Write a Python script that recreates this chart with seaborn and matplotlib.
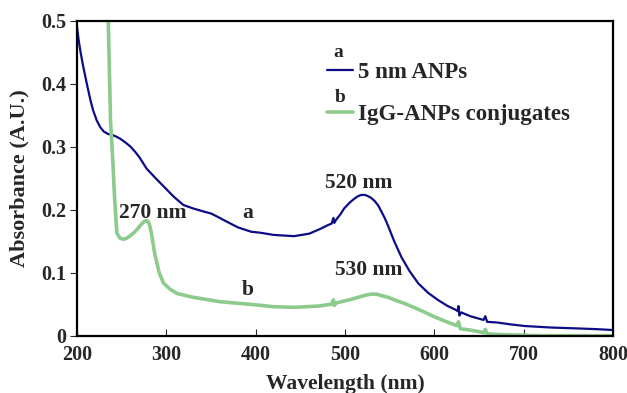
import numpy as np
import pandas as pd
import seaborn as sns
import matplotlib
matplotlib.use("Agg")
import matplotlib.pyplot as plt
from matplotlib.ticker import FuncFormatter

#=============================== data
wl_a = [200, 202, 204, 207, 211, 215, 218, 222, 226, 230, 235, 239, 244, 248, 254, 260,
        265, 270, 278, 288, 297, 308, 319, 330, 342, 350, 357, 365, 380, 395, 405, 420,
        443, 460, 473, 480, 485, 487, 488, 490, 495, 499, 505, 510, 514, 518, 522, 525,
        529, 533, 537, 540, 544, 548, 555, 563, 572, 582, 593, 604, 615, 624, 626, 627,
        628, 630, 640, 650, 655, 657, 659, 670, 685, 701, 730, 757, 780, 800]
abs_a = [0.490, 0.468, 0.450, 0.427, 0.400, 0.374, 0.358, 0.342, 0.331, 0.324, 0.320,
         0.319, 0.316, 0.313, 0.307, 0.300, 0.292, 0.283, 0.265, 0.250, 0.237, 0.221,
         0.2075, 0.202, 0.197, 0.194, 0.189, 0.183, 0.172, 0.165, 0.1635, 0.160, 0.158,
         0.162, 0.170, 0.175, 0.178, 0.187, 0.179, 0.184, 0.193, 0.202, 0.211, 0.217,
         0.221, 0.2235, 0.2235, 0.222, 0.219, 0.214, 0.207, 0.199, 0.188, 0.175, 0.150,
         0.125, 0.103, 0.083, 0.068, 0.0567, 0.047, 0.041, 0.039, 0.047, 0.032, 0.037,
         0.031, 0.027, 0.025, 0.031, 0.022, 0.021, 0.018, 0.0154, 0.013, 0.0117, 0.0105,
         0.009]

wl_b = [232, 235, 237.5, 240, 242, 244.6, 248, 252, 256, 260, 264, 268, 272, 275, 277,
        279, 281, 283, 287, 292, 297, 305, 312, 330, 360, 400, 420, 443, 470, 485, 487,
        488, 490, 505, 515, 522, 529, 535, 540, 548, 555, 567, 585, 600, 612, 625, 627,
        629, 640, 655, 657, 659, 670, 690, 720, 760, 800]
abs_b = [0.700, 0.500, 0.342, 0.280, 0.220, 0.163, 0.155, 0.153, 0.155, 0.159, 0.164,
         0.170, 0.177, 0.181, 0.1825, 0.182, 0.177, 0.165, 0.130, 0.100, 0.083, 0.073,
         0.067, 0.061, 0.054, 0.049, 0.046, 0.045, 0.047, 0.050, 0.057, 0.048, 0.052,
         0.057, 0.061, 0.064, 0.066, 0.066, 0.064, 0.061, 0.057, 0.051, 0.040, 0.030,
         0.023, 0.016, 0.022, 0.011, 0.009, 0.005, 0.010, 0.003, 0.002, 0.001, 0.0, 0.0,
         0.0]

label_a = "5 nm ANPs"
label_b = "IgG-ANPs conjugates"
peaks = [("520 nm", 515, 0.242), ("530 nm", 526, 0.104), ("270 nm", 285, 0.195),
         ("a", 391, 0.195), ("b", 391, 0.0725)]

#=============================== style
sns.set_style("ticks")
plt.rcParams['font.family'] = ['Liberation Serif', 'DejaVu Serif']
plt.rcParams['font.weight'] = 'bold'
plt.rcParams['axes.labelweight'] = 'bold'

df_a = pd.DataFrame({"wl": wl_a, "abs": abs_a})
df_b = pd.DataFrame({"wl": wl_b, "abs": abs_b})

fig = plt.figure(figsize=(6.27, 3.93), dpi=100)
ax = fig.add_axes([0.1228, 0.1458, 0.855, 0.8015])

sns.lineplot(data=df_a, x="wl", y="abs", ax=ax, color="#0c0c86", lw=1.6,
             label=label_a, sort=False)
sns.lineplot(data=df_b, x="wl", y="abs", ax=ax, color="#8ccb8c", lw=2.6,
             label=label_b, sort=False)

ax.set_xlim(200, 800)
ax.set_ylim(0, 0.5)
ax.set_xticks(range(200, 801, 100))
ax.set_yticks([0, 0.1, 0.2, 0.3, 0.4, 0.5])
ax.yaxis.set_major_formatter(FuncFormatter(lambda v, p: "0" if v == 0 else f"{v:.1f}"))
ax.tick_params(axis='x', direction='in', length=5, width=0.8, labelsize=14.5, pad=7)
ax.tick_params(axis='y', direction='out', length=5, width=0.8, labelsize=14.5, pad=3)
for s in ax.spines.values():
    s.set_visible(True)
    s.set_linewidth(1.6)
    s.set_color('black')
ax.set_xlabel("Wavelength (nm)", fontsize=15.5, labelpad=6)
ax.set_ylabel("Absorbance (A.U.)", fontsize=16, labelpad=8)

for txt, x, y in peaks:
    ax.text(x, y, txt, fontsize=15.5, fontweight='bold', ha='center', va='center')

leg = ax.legend(loc='upper left', bbox_to_anchor=(0.466, 0.87), frameon=False,
                fontsize=16.5, handlelength=1.15, handletextpad=0.2, labelspacing=0.93,
                borderpad=0, borderaxespad=0)
ax.text(0.487, 0.898, "a", transform=ax.transAxes, fontsize=14, ha='center', va='center')
ax.text(0.491, 0.755, "b", transform=ax.transAxes, fontsize=14, ha='center', va='center')

fig.savefig("out.png", dpi=100)
